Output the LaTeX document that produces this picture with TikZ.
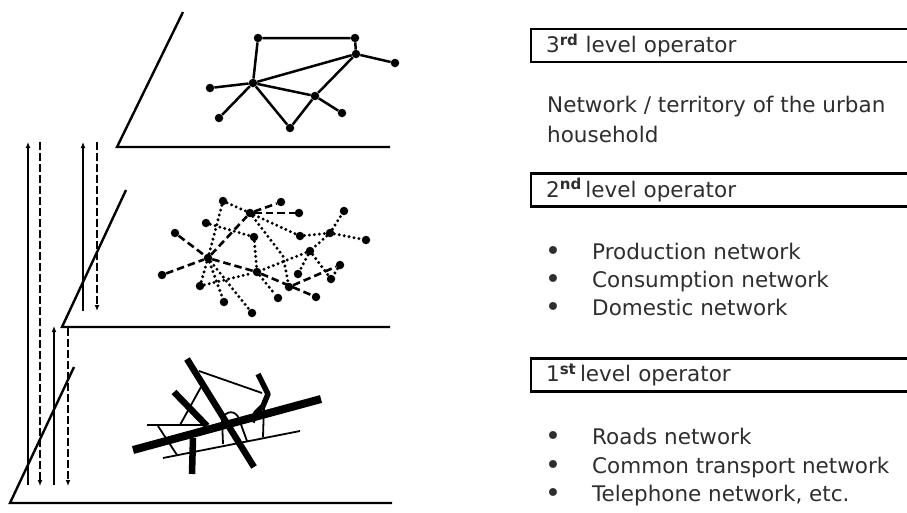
\documentclass[tikz,border=0pt]{standalone}
\usepackage{fontspec}
\setmainfont{DejaVu Sans}
\usetikzlibrary{arrows.meta}

\definecolor{ink}{HTML}{2E2E2E}

\newcommand{\blt}{\makebox[47pt][l]{\raisebox{-1.5pt}{\fontsize{27}{27}\selectfont •}}}

\tikzset{
  plane/.style={line width=2.4pt, line join=miter},
  dot/.style={circle, fill=black, inner sep=0pt, minimum size=8.5pt},
  link/.style={line width=2.5pt},
  dotlink/.style={line width=3.3pt, line cap=round, dash pattern=on 0pt off 5pt},
  dashlink/.style={line width=2.6pt, dash pattern=on 7.5pt off 4pt},
  flowup/.style={line width=1.5pt, -{Latex[length=6pt,width=5pt]}},
  flowdown/.style={line width=1.5pt, dash pattern=on 7.5pt off 3.5pt, -{Latex[length=6pt,width=5pt]}},
  road/.style={line width=8pt},
  street/.style={line width=5.5pt, line join=round},
  lane/.style={line width=1.8pt},
  opbox/.style={draw, line width=2.2pt, anchor=west, minimum height=33pt,
                text width=392pt, inner xsep=15pt, text=ink, align=left,
                font=\fontsize{21.5}{28}\selectfont},
  txt/.style={anchor=base west, inner sep=0pt, text=ink,
              font=\fontsize{21.5}{28}\selectfont},
}

\begin{document}
\begin{tikzpicture}[x=1pt, y=-1pt]
\useasboundingbox (0,0) rectangle (907,512);

% ---------- the three planes ----------
\draw[plane] (183,12) -- (117,147) -- (390,147);
\draw[plane] (126,190) -- (62,327) -- (390,327);
\draw[plane] (74,367) -- (10,503) -- (392,503);

% ---------- exchanges between levels ----------
\coordinate (p1a) at (28,485);  \coordinate (p1b) at (28,142);
\coordinate (p1c) at (40,142);  \coordinate (p1d) at (40,486);
\coordinate (p2a) at (83,311);  \coordinate (p2b) at (83,142);
\coordinate (p2c) at (97,142);  \coordinate (p2d) at (97,311);
\coordinate (p3a) at (54,485);  \coordinate (p3b) at (54,326);
\coordinate (p3c) at (68,328);  \coordinate (p3d) at (68,486);
\draw[flowup] (p1a) -- (p1b);
\draw[flowdown] (p1c) -- (p1d);
\draw[flowup] (p2a) -- (p2b);
\draw[flowdown] (p2c) -- (p2d);
\draw[flowup] (p3a) -- (p3b);
\draw[flowdown] (p3c) -- (p3d);

% ---------- 3rd level: household network ----------
\node[dot] (ta) at (258,38) {};
\node[dot] (tb) at (355,38) {};
\node[dot] (tc) at (356,54) {};
\node[dot] (td) at (395,63) {};
\node[dot] (te) at (253,83) {};
\node[dot] (tf) at (210,88) {};
\node[dot] (tg) at (219,118) {};
\node[dot] (th) at (290,128) {};
\node[dot] (ti) at (315,96) {};
\node[dot] (tj) at (342,113) {};
\draw[link] (ta) -- (tb) -- (tc) -- (td);
\draw[link] (ta) -- (te);
\draw[link] (tc) -- (te);
\draw[link] (tc) -- (ti) -- (th) -- (te);
\draw[link] (te) -- (ti) -- (tj);
\draw[link] (te) -- (tf);
\draw[link] (te) -- (tg);

% ---------- 2nd level: production / consumption / domestic ----------
\node[dot] (m1)  at (223,201) {};
\node[dot] (m2)  at (281,202) {};
\node[dot] (m3)  at (250,213) {};
\node[dot] (m4)  at (299,213) {};
\node[dot] (m5)  at (344,211) {};
\node[dot] (m6)  at (206,223) {};
\node[dot] (m7)  at (175,233) {};
\node[dot] (m8)  at (254,237) {};
\node[dot] (m9)  at (300,236) {};
\node[dot] (m10) at (330,233) {};
\node[dot] (m11) at (366,240) {};
\node[dot] (m12) at (310,251) {};
\node[dot] (m13) at (208,258) {};
\node[dot] (m14) at (162,275) {};
\node[dot] (m15) at (257,272) {};
\node[dot] (m16) at (340,265) {};
\node[dot] (m17) at (200,286) {};
\node[dot] (m18) at (298,274) {};
\node[dot] (m19) at (331,279) {};
\node[dot] (m20) at (289,287) {};
\node[dot] (m21) at (224,302) {};
\node[dot] (m22) at (278,298) {};
\node[dot] (m23) at (316,297) {};
\node[dot] (m24) at (252,313) {};
\coordinate (mbend) at (283,256);

\draw[dotlink] (m1) -- (m3);
\draw[dotlink] (m1) -- (m13);
\draw[dotlink] (m6) -- (m8);
\draw[dotlink] (m8) -- (m15);
\draw[dotlink] (m3) -- (m9) -- (m10) -- (m11);
\draw[dotlink] (m10) -- (m5);
\draw[dotlink] (m10) -- (m12) -- (m15);
\draw[dotlink] (m12) -- (m18);
\draw[dotlink] (m12) -- (m19);
\draw[dotlink] (m3) -- (mbend) -- (m20);
\draw[dotlink] (m13) -- (m21);
\draw[dotlink] (m13) -- (m24);
\draw[dotlink] (m13) -- (m17) -- (m15);
\draw[dotlink] (m15) -- (m22);
\draw[dotlink] (m16) -- (m19);

\draw[dashlink] (m7) -- (m13);
\draw[dashlink] (m14) -- (m13);
\draw[dashlink] (m13) -- (m3);
\draw[dashlink] (m3) -- (m2);
\draw[dashlink] (m3) -- (m4);
\draw[dashlink] (m13) -- (m15);
\draw[dashlink] (m15) -- (m23);
\draw[dashlink] (m20) -- (m16);

% ---------- 1st level: roads, transport, telephone ----------
% thin lines
\draw[lane] (163,458) -- (300,431);
\draw[lane] (147,425) -- (205,425);
\draw[lane] (158,426) -- (177,455);
\draw[lane] (180,425) -- (201,387);
\draw[lane] (199,371) -- (262,393);
\draw[lane] (264,405) -- (263,437);
\draw[lane] (222,419) -- (223,444);
\draw[lane] (239,419) -- (247,441);
\draw[lane] (222,419) .. controls (226,410) and (236,410) .. (239,419);
% main roads
\draw[road] (133,450) -- (321,399);
\draw[street, line width=6.5pt] (187,359) -- (254,467);
\draw[street, line width=6.5pt] (174,392) -- (207,426);
\draw[street, line width=6.5pt] (193,438) -- (192,474);
\draw[street] (258,374) -- (268,394) -- (263,406) -- (256,413) -- (252,422);

% ---------- legend ----------
\node[opbox] (op3) at (530,45.5) {3\textsuperscript{\bfseries rd} level operator};
\node[txt] (t3a) at (547,112) {Network / territory of the urban};
\node[txt] (t3b) at (547,142) {household};

\node[opbox] (op2) at (530,190) {2\textsuperscript{\bfseries nd}\,level operator};
\node[txt] (t2a) at (545,259) {\blt Production network};
\node[txt] (t2b) at (545,287) {\blt Consumption network};
\node[txt] (t2c) at (545,315) {\blt Domestic network};

\node[opbox] (op1) at (530,375) {1\textsuperscript{\bfseries st}\,level operator};
\node[txt] (t1a) at (545,444) {\blt Roads network};
\node[txt] (t1b) at (545,473) {\blt Common transport network};
\node[txt] (t1c) at (545,501) {\blt Telephone network, etc.};
\end{tikzpicture}
\end{document}
